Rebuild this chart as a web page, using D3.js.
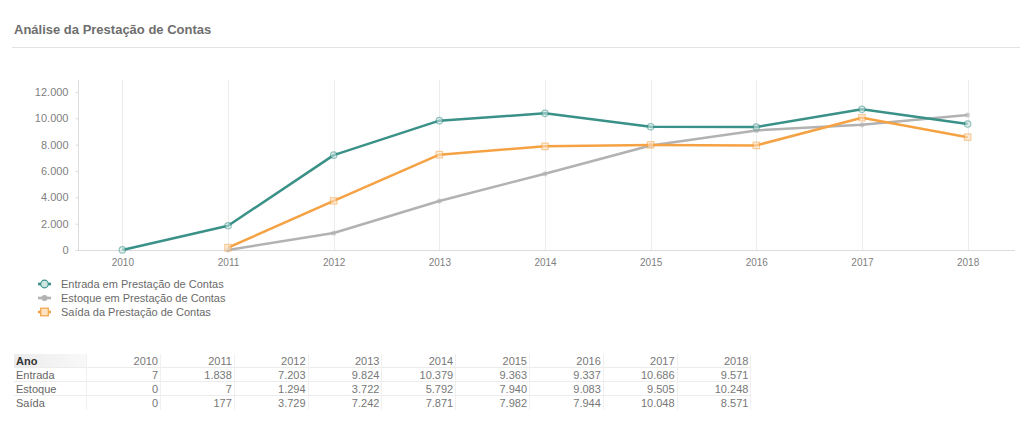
<!DOCTYPE html>
<meta charset="utf-8">
<script src="https://d3js.org/d3.v7.min.js"></script>
<style>
  body { margin: 0; background: #fff; font-family: Arial, "Liberation Sans", sans-serif; }
</style>
<div id="my_dataviz"></div>
<script>
// data
var anos = ["2010","2011","2012","2013","2014","2015","2016","2017","2018"];
var entrada = [7, 1838, 7203, 9824, 10379, 9363, 9337, 10686, 9571];
var estoque = [0, 7, 1294, 3722, 5792, 7940, 9083, 9505, 10248];
var saida = [0, 177, 3729, 7242, 7871, 7982, 7944, 10048, 8571];
var yTicks = [0, 2000, 4000, 6000, 8000, 10000, 12000];
// first year each series is plotted in the chart
var inicio = {entrada: 0, estoque: 1, saida: 1};

var fmt = function(v) { return d3.format(",")(v).replace(/,/g, "."); };

var W = 1024, H = 440;
var svg = d3.select("#my_dataviz").append("svg")
    .attr("width", W).attr("height", H);

// title + rule
svg.append("text").attr("x", 14).attr("y", 34)
  .style("font-size", "13px").style("font-weight", "bold").attr("fill", "#6e6e6e")
  .text("Análise da Prestação de Contas");
svg.append("line").attr("x1", 12).attr("x2", 1020).attr("y1", 47.5).attr("y2", 47.5)
  .attr("stroke", "#e3e3e3");

var x = d3.scalePoint().domain(anos).range([78, 1012]).padding(0.42);
var y = d3.scaleLinear().domain([0, 12000]).range([250, 92]);

// vertical grid
svg.append("g").selectAll("line").data(anos).join("line")
  .attr("x1", function(d) { return Math.round(x(d)) + 0.5; })
  .attr("x2", function(d) { return Math.round(x(d)) + 0.5; })
  .attr("y1", 80).attr("y2", 250)
  .attr("stroke", "#ececec");

// y axis
var gy = svg.append("g").attr("transform", "translate(78.5,0)")
  .call(d3.axisLeft(y).tickValues(yTicks).tickFormat(fmt).tickSize(3).tickPadding(7));
gy.select(".domain").attr("stroke", "#dcdcdc").attr("d", "M0,80V250");
gy.selectAll(".tick line").attr("stroke", "#dcdcdc");
gy.selectAll("text").attr("fill", "#808080").style("font-size", "11px")
  .style("font-family", "Arial, 'Liberation Sans', sans-serif");

// x axis
var gx = svg.append("g").attr("transform", "translate(0,250.5)")
  .call(d3.axisBottom(x).tickSize(0).tickPadding(8));
gx.select(".domain").attr("stroke", "#dcdcdc").attr("d", "M78,0H1015");
gx.selectAll("text").attr("fill", "#808080").style("font-size", "10px")
  .style("font-family", "Arial, 'Liberation Sans', sans-serif");

var series = [
  {key: "entrada", nome: "Entrada em Prestação de Contas", vals: entrada, cor: "#3a9188", fundo: "#cfe6e3", marca: "circle"},
  {key: "estoque", nome: "Estoque em Prestação de Contas", vals: estoque, cor: "#b2b2b2", fundo: "#b2b2b2", marca: "dot"},
  {key: "saida", nome: "Saída da Prestação de Contas", vals: saida, cor: "#f5a244", fundo: "#fde3c4", marca: "square"}
];

// draw gray first, then orange, then teal on top
var ordem = [series[1], series[2], series[0]];
var line = d3.line().x(function(d) { return x(d.ano); }).y(function(d) { return y(d.v); });

function marca(g, s, cx, cy, r) {
  if (s.marca === "circle") {
    g.append("circle").attr("cx", cx).attr("cy", cy).attr("r", r)
      .attr("fill", s.fundo).attr("stroke", s.cor).attr("stroke-width", 1.2);
  } else if (s.marca === "square") {
    g.append("rect").attr("x", cx - r).attr("y", cy - r).attr("width", 2 * r).attr("height", 2 * r)
      .attr("fill", s.fundo).attr("stroke", s.cor).attr("stroke-width", 1.2);
  } else {
    g.append("circle").attr("cx", cx).attr("cy", cy).attr("r", r * 0.8).attr("fill", s.cor);
  }
}

ordem.forEach(function(s) {
  var pts = anos.map(function(a, i) { return {ano: a, v: s.vals[i]}; }).slice(inicio[s.key]);
  svg.append("path").datum(pts)
    .attr("fill", "none").attr("stroke", s.cor).attr("stroke-width", 2.5)
    .attr("stroke-linejoin", "round").attr("d", line);
  var g = svg.append("g").attr("opacity", 0.55);
  pts.forEach(function(p) { marca(g, s, x(p.ano), y(p.v), 3.2); });
});

// legend
var lg = svg.append("g");
series.forEach(function(s, i) {
  var ly = 284 + i * 14;
  lg.append("line").attr("x1", 38).attr("x2", 51).attr("y1", ly).attr("y2", ly)
    .attr("stroke", s.cor).attr("stroke-width", 2.6);
  marca(lg, s, 44.5, ly, 3.8);
  lg.append("text").attr("x", 61).attr("y", ly + 4)
    .style("font-size", "11px").attr("fill", "#6a6a6a").text(s.nome);
});

// table
var tb = svg.append("g").style("font-size", "11px");
var colR = anos.map(function(a, i) { return 158 + i * 73.8; });
var rowY = [361, 375, 389, 403];
var linhas = [
  {nome: "Entrada", vals: entrada},
  {nome: "Estoque", vals: estoque},
  {nome: "Saída", vals: saida}
];
var grad = svg.append("defs").append("linearGradient").attr("id", "hd");
grad.append("stop").attr("offset", "0%").attr("stop-color", "#ececec");
grad.append("stop").attr("offset", "100%").attr("stop-color", "#f8f8f8");
tb.append("rect").attr("x", 14).attr("y", 354).attr("width", 72).attr("height", 13).attr("fill", "url(#hd)");
tb.append("text").attr("x", 16).attr("y", rowY[0] + 4).style("font-weight", "bold").attr("fill", "#333").text("Ano");
tb.selectAll(".hy").data(anos).join("text").attr("class", "hy")
  .attr("x", function(d, i) { return colR[i]; }).attr("y", rowY[0] + 4)
  .attr("text-anchor", "end").attr("fill", "#777").text(function(d) { return d; });
linhas.forEach(function(l, j) {
  var yy = rowY[j + 1] + 4;
  tb.append("text").attr("x", 16).attr("y", yy).attr("fill", "#666").text(l.nome);
  tb.selectAll(".v" + j).data(l.vals).join("text").attr("class", "v" + j)
    .attr("x", function(d, i) { return colR[i]; }).attr("y", yy)
    .attr("text-anchor", "end").attr("fill", "#777").text(function(d) { return fmt(d); });
});
// table rules
[367.5, 381.5, 395.5].forEach(function(ly) {
  tb.append("line").attr("x1", 14).attr("x2", 750).attr("y1", ly).attr("y2", ly).attr("stroke", "#ececec");
});
[86].concat(colR.map(function(c) { return c + 2; })).forEach(function(lx) {
  tb.append("line").attr("x1", Math.round(lx) + 0.5).attr("x2", Math.round(lx) + 0.5)
    .attr("y1", 354).attr("y2", 410).attr("stroke", "#f0f0f0");
});
</script>
